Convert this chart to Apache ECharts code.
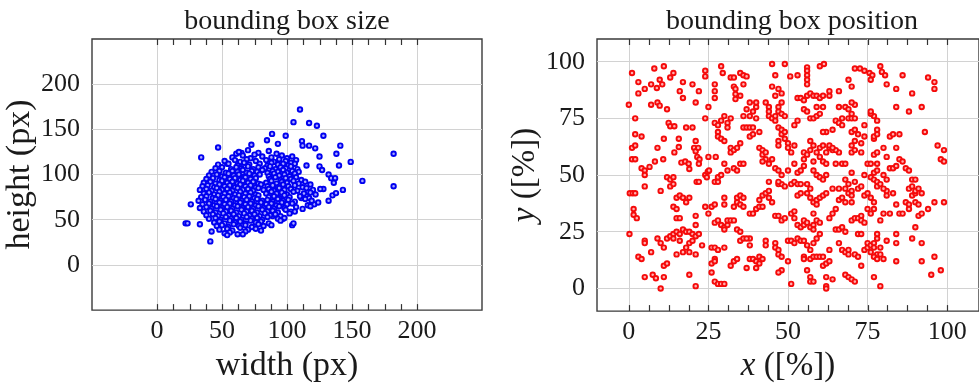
<!DOCTYPE html>
<html>
<head>
<meta charset="utf-8">
<script src="https://cdn.jsdelivr.net/npm/echarts@6/dist/echarts.min.js"></script>
<style>
  html, body { margin: 0; padding: 0; background: #fff; }
  #chart { width: 979px; height: 388px; }
</style>
</head>
<body>
<div id="chart"></div>
<script>
// tick values
const sizeTicks = [0, 50, 100, 150, 200]
const sizeMinorTicks = [0, 12.5, 25, 37.5, 50, 62.5, 75, 87.5, 100, 112.5, 125, 137.5, 150, 162.5, 175, 187.5, 200]
const posTicks = [0, 25, 50, 75, 100]
const posMinorTicks = [0, 6.25, 12.5, 18.75, 25, 31.25, 37.5, 43.75, 50, 56.25, 62.5, 68.75, 75, 81.25, 87.5, 93.75, 100]
const sizeRange = [-50, 250]
const posRange = [-10, 110]

// bounding box size: [width, height] in px
const sizePoints = [
  [182, 123], [182, 87], [158, 93], [149, 114], [141, 132], [138, 123], [140, 110], [143, 83],
  [128, 143], [123, 154], [117, 157], [110, 172], [105, 158], [99, 143], [88.5, 145], [93, 134],
  [84.6, 138], [72.6, 133], [47, 130], [34, 119], [54, 112], [61, 123], [65, 124], [26, 67],
  [22, 46], [23.5, 46], [33, 45], [41, 26], [42, 37], [104, 44], [105, 46], [111.5, 137],
  [112, 132], [117, 132], [121.7, 129], [125, 120], [115, 110], [125, 109], [127, 105], [132, 100],
  [134, 96], [137, 96], [136, 91], [132, 71], [135, 77], [137.7, 79.5], [121, 67], [128, 84],
  [125.6, 84], [111, 74], [116, 81], [103, 59], [97, 51], [89, 54],
  [63, 125], [70, 127], [78, 124], [86, 126], [92, 123],
  [58, 119], [66, 121], [72, 118], [75, 122], [81, 120], [88, 119], [96, 121], [100, 118], [104, 120],
  [52, 115], [60, 116], [64, 114], [69, 117], [76, 115], [84, 116], [90, 114], [94, 117], [99, 115], [103, 113], [107, 116],
  [47, 111], [55, 112], [62, 110], [67, 113], [71, 111], [79, 112], [85, 110], [88, 113], [93, 111], [97, 112], [101, 110], [106, 112],
  [45, 107], [50, 108], [57, 106], [61, 108], [65, 107], [70, 109], [74, 106], [78, 108], [83, 107], [87, 109], [91, 106], [95, 108], [99, 107], [103, 109], [108, 106],
  [42, 103], [48, 104], [53, 102], [58, 104], [62, 103], [66, 105], [69, 102], [73, 104], [77, 103], [81, 105], [85, 102], [89, 104], [93, 103], [97, 105], [100, 102], [104, 104], [109, 103],
  [40, 99], [46, 100], [50, 98], [55, 101], [59, 99], [63, 100], [67, 98], [71, 101], [75, 99], [79, 100], [86, 98], [90, 101], [94, 99], [98, 100], [102, 98], [106, 101],
  [38, 95], [43, 96], [48, 94], [52, 97], [56, 95], [60, 96], [64, 94], [68, 97], [72, 95], [76, 96], [87, 95], [91, 97], [95, 94], [99, 96], [103, 95], [107, 97], [111, 94],
  [36, 91], [41, 92], [45, 90], [50, 93], [54, 91], [58, 92], [62, 90], [66, 93], [70, 91], [74, 92], [78, 90], [84, 91], [88, 93], [92, 90], [96, 92], [100, 91], [105, 93], [109, 90], [114, 92],
  [35, 87], [39, 88], [44, 86], [48, 89], [52, 87], [56, 88], [60, 86], [64, 89], [68, 87], [72, 88], [76, 86], [80, 89], [85, 87], [89, 88], [93, 86], [97, 89], [101, 87], [106, 88], [112, 86], [118, 89],
  [33, 83], [38, 84], [42, 82], [46, 85], [50, 83], [54, 84], [58, 82], [62, 85], [66, 83], [70, 84], [74, 82], [78, 85], [82, 83], [86, 84], [90, 82], [94, 85], [98, 83], [103, 84], [108, 82], [115, 85], [120, 83],
  [36, 79], [40, 80], [44, 78], [48, 81], [52, 79], [56, 80], [60, 78], [64, 81], [68, 79], [72, 80], [76, 78], [84, 79], [88, 81], [92, 79], [96, 80], [100, 78], [105, 81], [113, 79], [118, 80], [122, 78],
  [34, 75], [38, 76], [43, 74], [47, 77], [51, 75], [55, 76], [59, 74], [63, 77], [67, 75], [71, 76], [75, 74], [78, 77], [86, 75], [90, 76], [94, 74], [98, 77], [102, 75], [110, 76], [117, 74],
  [32, 71], [37, 72], [41, 70], [45, 73], [49, 71], [53, 72], [57, 70], [61, 73], [65, 71], [69, 72], [73, 70], [77, 73], [81, 71], [85, 72], [89, 70], [93, 73], [97, 71], [101, 72], [106, 70], [114, 73], [119, 71],
  [35, 67], [40, 68], [44, 66], [48, 69], [52, 67], [56, 68], [60, 66], [64, 69], [68, 67], [72, 68], [76, 66], [80, 69], [84, 67], [88, 68], [92, 66], [96, 69], [100, 67], [104, 68], [116, 66], [124, 69],
  [33, 63], [38, 64], [42, 62], [46, 65], [50, 63], [54, 64], [58, 62], [62, 65], [66, 63], [70, 64], [74, 62], [78, 65], [82, 63], [86, 64], [90, 62], [94, 65], [98, 63], [107, 64], [112, 62], [118, 65],
  [36, 59], [41, 60], [45, 58], [49, 61], [53, 59], [57, 60], [61, 58], [65, 61], [69, 59], [73, 60], [77, 58], [81, 61], [85, 59], [89, 60], [93, 58], [99, 61], [106, 59],
  [38, 55], [43, 56], [47, 54], [51, 57], [55, 55], [59, 56], [63, 54], [67, 57], [71, 55], [75, 56], [79, 54], [83, 57], [87, 55], [91, 56], [95, 54], [102, 57],
  [40, 51], [45, 52], [49, 50], [53, 53], [57, 51], [61, 52], [65, 50], [69, 53], [73, 51], [77, 52], [81, 50], [85, 53], [93, 51], [98, 52],
  [44, 47], [48, 48], [52, 46], [56, 49], [60, 47], [64, 48], [68, 46], [72, 49], [76, 47], [80, 48], [86, 46], [95, 49],
  [46, 43], [50, 44], [55, 42], [59, 45], [63, 43], [68, 44], [73, 42], [78, 45], [82, 43], [88, 44],
  [48, 39], [54, 40], [58, 38], [64, 41], [70, 39], [76, 40], [80, 38],
  [52, 35], [56, 36], [62, 34], [68, 37], [54, 33], [66, 34]
]

// bounding box position: [x, y] in %
const posPoints = [
  [1, 95], [8, 97], [11, 98], [13, 93], [14, 95], [17, 91], [20, 90], [22, 87], [24, 96], [24, 93.5],
  [27, 90], [27, 87], [27, 84], [29, 98], [29.5, 95], [32, 93], [33, 93], [35, 95], [36, 94], [37, 93.5],
  [33, 89], [33.5, 88], [33.5, 85.7], [33.5, 83.5], [45, 99], [49, 99], [46, 94], [50.7, 93.5], [53, 94],
  [56, 97.5], [56, 96], [56, 94], [56, 92], [56, 90], [60, 98], [61.3, 99], [71, 97], [72.6, 97], [74, 96],
  [75.6, 95], [76.5, 94], [76, 92], [79, 98], [79.5, 95.5], [80.5, 94], [81, 90], [86, 94], [94, 93],
  [96, 91], [96, 88], [89, 86], [84, 88], [84, 80], [69, 92], [70, 89], [66, 87],
  [0, 81], [3, 86], [3, 91], [5, 88], [7, 90], [8.8, 88.4], [9.7, 92], [10.5, 90], [7, 81], [9, 82],
  [9.7, 80.6], [12, 79], [16, 87], [17, 84], [21, 82], [25, 80],
  [2, 75], [2, 68], [4, 67], [1, 62], [2, 63], [1, 57], [2, 57], [4, 53], [5, 52], [5, 50], [5, 45],
  [6.5, 53.6], [8.2, 56], [10.8, 57], [9, 62], [11, 66], [12.5, 73], [13, 71.5], [14.3, 71.5], [18, 71],
  [20, 71], [15.7, 66], [15.7, 62.4], [14.3, 60], [16.5, 55.5], [17.7, 56], [18.8, 55], [19, 52.7],
  [20.5, 62], [21, 60.5], [21, 65], [21.8, 62], [21.5, 58], [22.2, 57], [22, 55], [21.3, 47], [22, 47],
  [24, 50], [24.5, 49], [24.8, 51.5], [25.2, 52], [24, 75],
  [27, 73], [28, 72], [29, 74], [28, 69], [28, 67], [29, 66], [30, 65], [30, 76], [31, 73], [31, 71], [32, 75],
  [25, 58], [27.3, 58], [27, 47], [28, 47], [28, 49], [29, 50], [30, 55], [31, 52], [32, 60], [32, 62],
  [33, 61], [34, 62], [35, 64], [33, 53], [34, 52], [35, 55], [36, 55], [36, 71], [37, 71], [38, 71],
  [39, 71], [37, 79], [38, 82], [39, 78], [40, 80], [40, 82], [36, 76], [38, 76], [35, 85], [36, 90],
  [40, 75], [38, 67], [39, 68], [41, 69], [41, 62], [42, 61], [42, 59], [43, 57], [43, 60], [42, 56],
  [44, 55], [45, 57],
  [43, 82], [44, 80], [44, 78], [44, 76], [45, 75], [46, 74], [46, 76], [47, 78], [47, 80], [48, 82],
  [48, 77], [46, 85], [47, 88], [48, 86], [45, 89], [47, 71], [48, 70], [48, 68], [49, 69], [50, 64],
  [49, 66], [47, 65], [47, 63], [49, 76], [52, 72], [53, 74], [50, 62], [51, 60], [52, 63], [46, 53],
  [47, 52], [48, 50], [50, 52],
  [47, 46], [48, 46], [49, 45], [51, 46], [52, 47], [53, 46], [54, 46], [56, 46], [57, 44], [52, 55],
  [53, 51], [54, 52], [55, 54], [55, 57], [55, 60], [56, 59], [57, 61], [58, 56], [58, 52],
  [53, 84], [54, 84], [55, 83], [56, 85], [57, 86], [58, 85], [59, 85], [60, 84], [61, 85], [63, 85],
  [55, 79], [56, 78], [57, 75], [58, 75], [59, 76], [60, 77], [59, 80], [61, 80], [60, 62], [61, 63],
  [62, 60], [63, 62], [64, 61], [57, 65], [58, 63], [59, 60], [60, 58], [61, 56], [62, 55], [59, 50],
  [60, 49], [61, 48], [62, 50],
  [0.3, 42], [1.2, 42], [2, 42], [1.5, 35], [1.5, 32.5], [2.5, 31], [0.2, 24], [3, 14], [4, 13], [5, 21],
  [5, 20], [5, 5], [7.5, 6], [8.5, 4.5], [7, 16], [9, 22], [10, 20], [11, 18], [10, 43], [10, 0], [11, 5],
  [11, 10], [12, 11], [12, 49], [13, 48], [13, 45], [14, 46], [14, 49], [12, 22], [13, 23], [14, 24],
  [14, 22], [15, 25], [16, 24], [16, 21], [14, 36], [15, 35], [15, 31], [16, 31], [15, 40], [16, 41],
  [17, 40], [19, 40], [18, 38], [15, 15], [17, 16], [18, 18], [19, 16], [19, 20], [20, 21], [17, 26],
  [18, 25], [19, 25], [20, 24], [21, 23], [22, 24], [19, 6], [21, 1], [21, 32], [21, 28], [21, 15],
  [23, 19], [24, 36], [25, 33], [26, 7], [27, 3], [28, 2], [29, 2], [30, 2], [26, 18], [27, 18], [28, 17],
  [30, 18], [26, 11], [27, 13], [27, 12], [27, 29], [28, 30], [29, 28], [30, 27], [30, 26], [31, 28],
  [31, 30], [32, 30], [33, 30], [26, 36], [27, 37], [30, 37], [30, 40], [32, 10], [33, 12], [34, 13],
  [35, 21], [36, 22], [33, 36], [34, 38], [34, 40], [35, 41], [36, 40], [35, 37], [36, 36], [34, 26],
  [35, 25], [37, 9], [38, 13], [39, 13], [40, 12], [41, 11], [40, 9], [41, 14], [42, 13], [38, 19],
  [38, 22], [37, 22], [38, 33], [39, 33], [40, 35], [41, 36], [42, 36], [41, 39], [42, 41], [43, 42],
  [44, 43], [44, 40], [45, 38], [43, 19], [43, 21], [46, 20], [46, 18], [47, 17], [47, 15], [48, 14],
  [48, 8], [47, 7], [46, 32], [47, 32], [48, 30], [49, 31], [44, 47], [47, 47], [50, 21], [51, 21],
  [52, 20], [53, 22], [54, 21], [55, 21], [50, 12], [51, 2], [51, 33], [52, 34], [52, 31], [53, 28],
  [54, 27], [55, 28], [55, 30], [56, 29], [57, 27], [58, 28], [58, 26], [53, 41], [54, 42], [56, 42],
  [57, 40], [58, 38], [59, 39], [59, 37], [60, 40], [61, 41], [62, 42], [55, 14], [55, 13], [57, 13],
  [58, 14], [59, 14], [60, 14], [61, 14], [56, 8], [57, 5], [57, 3], [58, 3], [56, 19], [57, 17],
  [58, 20], [58, 33], [59, 30], [60, 29], [60, 24], [59, 22], [61, 10], [62, 11], [63, 12], [63, 17],
  [62, 5], [64, 4], [62, 1], [62, 0], [63, 31], [64, 33], [65, 35], [66, 39], [64, 44], [66, 44],
  [68, 44], [65, 26], [66, 26], [67, 27], [68, 25], [66, 20], [67, 17], [68, 16], [69, 15], [69, 17],
  [68, 6], [69, 5], [70, 4], [71, 3], [67, 40], [68, 38], [69, 42], [70, 43], [70, 41], [70, 38],
  [70, 30], [71, 31], [72, 31], [73, 32], [73, 30], [74, 29], [72, 24], [73, 24], [71, 15], [72, 14],
  [73, 10], [74, 17], [75, 18], [75, 20], [76, 16], [76, 19], [77, 20], [77, 18], [78, 15], [77, 14],
  [78, 22], [78, 24], [79, 18], [79, 15], [80, 13], [78, 13], [74, 41], [75, 42], [76, 40], [77, 35],
  [77, 38], [75, 35], [76, 33], [77, 5], [79, 1], [79, 30], [80, 33], [81, 41], [81, 43], [82, 33],
  [81, 21], [83, 42], [84, 37], [85, 33], [86, 33], [87, 38], [88, 37], [88, 35], [89, 41], [90, 42],
  [90, 38], [91, 37], [91, 32], [92, 33], [84, 24], [84, 20], [84, 12], [89, 22], [90, 27], [92, 20],
  [92, 12], [94, 35], [96, 38], [96, 14], [95, 6], [99, 38], [98, 8],
  [74, 50], [76, 49], [77, 51], [77, 48], [78, 47], [78, 45], [79, 46], [80, 50], [80, 44], [75, 55],
  [76, 55], [78, 55], [78, 52], [82, 53], [83, 53], [84, 54], [85, 57], [86, 56], [87, 53], [88, 52],
  [89, 48], [81, 48], [88, 44], [89, 45], [90, 43], [70, 51], [71, 47], [72, 44], [73, 45], [67, 55],
  [68, 55], [65, 55], [66, 60], [65, 61], [63, 63], [64, 62], [68, 48], [69, 46], [70, 60], [71, 61],
  [70, 63], [71, 65], [72, 68], [70, 69], [71, 70], [73, 64], [69, 75], [70, 75], [70, 77], [71, 75],
  [71, 81], [70, 82], [68, 80], [69, 79], [66, 80], [65, 74], [66, 73], [67, 72], [67, 75], [73, 60],
  [74, 67], [74, 72], [77, 66], [77, 67], [78, 70], [78, 74], [77, 76], [76, 77], [78, 68], [76, 78],
  [80, 62], [81, 58], [82, 67], [83, 68], [85, 68], [84, 62], [77, 59], [78, 60], [97, 63], [98, 57],
  [99, 56], [99, 61], [93, 69], [92, 80], [88, 78], [63, 87], [64, 70], [62, 69], [61, 69],
  [90, 48], [91, 44], [92, 42]
]

const serif = "'Liberation Serif', 'Times New Roman', serif"
const textColor = '#1a1a1a'
const gridColor = '#d2d2d2'
const frameColor = '#3a3a3a'
const tickColor = '#333'
const plotHeight = 278

function mainXAxis(gridIndex, range, ticks, name, nameStyle) {
  return {
    type: 'value', gridIndex, min: range[0], max: range[1], position: 'bottom',
    axisLine: { show: false, onZero: false },
    axisTick: { show: false, customValues: ticks },
    splitLine: { show: true, lineStyle: { color: gridColor, width: 1 } },
    axisLabel: { customValues: ticks, fontFamily: serif, fontSize: 26, color: textColor, margin: 8 },
    name, nameLocation: 'middle', nameGap: 35,
    nameTextStyle: nameStyle,
  }
}

function mainYAxis(gridIndex, range, ticks, name, gap, nameStyle) {
  return {
    type: 'value', gridIndex, min: range[0], max: range[1],
    axisLine: { show: false, onZero: false },
    axisTick: { show: false, customValues: ticks },
    splitLine: { show: true, lineStyle: { color: gridColor, width: 1 } },
    axisLabel: { customValues: ticks, fontFamily: serif, fontSize: 26, color: textColor, margin: 12 },
    name, nameLocation: 'middle', nameGap: gap, nameRotate: 90,
    nameTextStyle: nameStyle,
  }
}

// inward frame ticks along top and bottom, as a custom series on the axis scales
function tickSeries(axisIndex, ticks, yRange) {
  return {
    type: 'custom', xAxisIndex: axisIndex, yAxisIndex: axisIndex, silent: true, clip: false, z: 5,
    data: ticks.map(v => [v]),
    renderItem: (params, api) => {
      const bottom = api.coord([api.value(0), yRange[0]])
      const top = api.coord([api.value(0), yRange[1]])
      const x = Math.round(bottom[0]) + 0.5
      const style = { stroke: tickColor, lineWidth: 1.2 }
      return {
        type: 'group',
        children: [
          { type: 'line', shape: { x1: x, y1: bottom[1], x2: x, y2: bottom[1] - 6 }, style },
          { type: 'line', shape: { x1: x, y1: top[1], x2: x, y2: top[1] + 6 }, style },
        ],
      }
    },
  }
}

const nameStyle = { fontFamily: serif, fontSize: 34, color: textColor }
const italicNameStyle = {
  fontFamily: serif, fontSize: 33, color: textColor,
  rich: { i: { fontFamily: serif, fontSize: 33, fontStyle: 'italic', color: textColor } },
}

const chart = echarts.init(document.getElementById('chart'))

chart.setOption({
  animation: false,
  backgroundColor: '#fff',
  graphic: [
    { type: 'text', x: 287, y: 22, style: { text: 'bounding box size', font: '28px ' + serif, fill: textColor, textAlign: 'center', textVerticalAlign: 'middle' } },
    { type: 'text', x: 792, y: 22, style: { text: 'bounding box position', font: '28px ' + serif, fill: textColor, textAlign: 'center', textVerticalAlign: 'middle' } },
  ],
  grid: [
    { left: 92, top: 39, width: 390, height: plotHeight, show: true, borderColor: frameColor, borderWidth: 1.4, containLabel: false },
    { left: 597, top: 39, width: 390, height: plotHeight, show: true, borderColor: frameColor, borderWidth: 1.4, containLabel: false },
  ],
  xAxis: [
    mainXAxis(0, sizeRange, sizeTicks, 'width (px)', nameStyle),
    mainXAxis(1, posRange, posTicks, '{i|x} ([%])', italicNameStyle),
  ],
  yAxis: [
    mainYAxis(0, sizeRange, sizeTicks, 'height (px)', 52, nameStyle),
    mainYAxis(1, posRange, posTicks, '{i|y} ([%])', 50, italicNameStyle),
  ],
  series: [
    tickSeries(0, sizeMinorTicks, sizeRange),
    tickSeries(1, posMinorTicks, posRange),
    {
      type: 'scatter', xAxisIndex: 0, yAxisIndex: 0, data: sizePoints,
      symbol: 'circle', symbolSize: 4.5, silent: true,
      itemStyle: { color: '#a8a8ff', borderColor: '#0000f0', borderWidth: 1.9, opacity: 1 },
    },
    {
      type: 'scatter', xAxisIndex: 1, yAxisIndex: 1, data: posPoints,
      symbol: 'circle', symbolSize: 4.5, silent: true,
      itemStyle: { color: '#ffb0b0', borderColor: '#f50a0a', borderWidth: 1.9, opacity: 1 },
    },
  ],
})
</script>
</body>
</html>
